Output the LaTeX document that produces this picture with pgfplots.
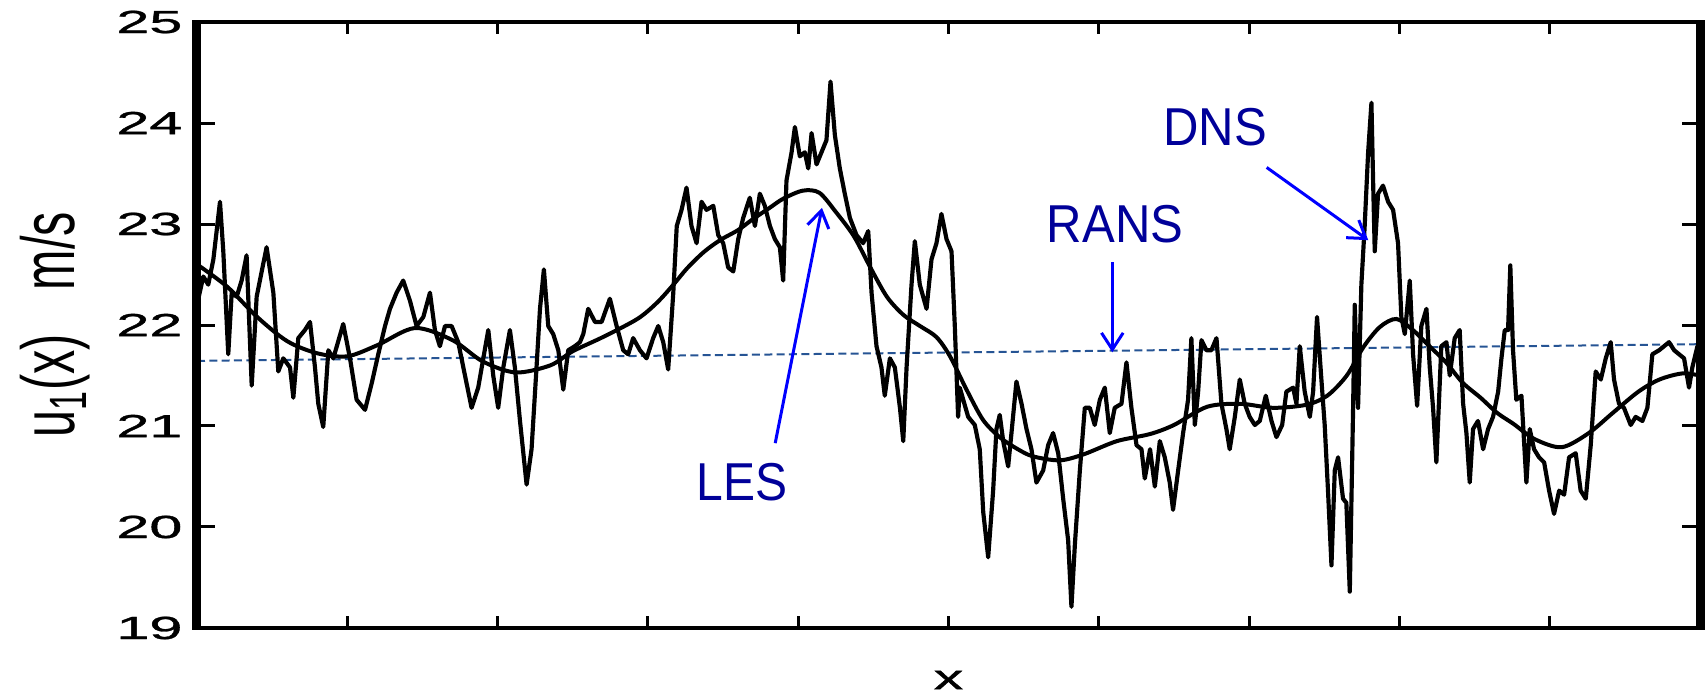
\documentclass[border=0pt]{standalone}
\usepackage{fontspec}
\setmainfont{Liberation Sans}
\newfontfamily\tickfont{Liberation Sans}[FakeBold=0.9]
\usepackage{pgfplots}
\pgfplotsset{compat=1.18}
\usepackage{pgfplotstable}
\usetikzlibrary{arrows.meta}

\definecolor{ransblue}{RGB}{38,84,148}
\definecolor{notenavy}{RGB}{0,0,153}
\definecolor{arrowblue}{RGB}{0,0,255}

% instantaneous velocity signal (DNS)
\pgfplotstableread{
x u
0.000 22.20
0.042 22.48
0.075 22.40
0.109 22.65
0.153 23.22
0.175 22.73
0.208 21.71
0.231 22.32
0.264 22.28
0.297 22.44
0.330 22.69
0.364 21.40
0.397 22.28
0.463 22.77
0.508 22.32
0.541 21.54
0.574 21.67
0.619 21.58
0.641 21.28
0.674 21.87
0.718 21.95
0.752 22.03
0.785 21.58
0.807 21.22
0.840 20.99
0.874 21.75
0.907 21.67
0.973 22.01
1.018 21.67
1.062 21.26
1.118 21.16
1.162 21.42
1.206 21.71
1.251 21.99
1.284 22.16
1.328 22.32
1.372 22.44
1.417 22.24
1.461 21.99
1.506 22.08
1.550 22.32
1.583 21.95
1.616 21.79
1.650 21.99
1.694 21.99
1.738 21.83
1.783 21.50
1.827 21.18
1.871 21.38
1.905 21.67
1.938 21.95
1.971 21.50
2.004 21.18
2.038 21.58
2.082 21.95
2.115 21.58
2.149 21.05
2.193 20.42
2.226 20.77
2.259 21.58
2.282 22.16
2.308 22.55
2.337 21.99
2.370 21.91
2.404 21.75
2.437 21.36
2.470 21.75
2.514 21.79
2.548 21.83
2.570 21.91
2.603 22.16
2.648 22.03
2.692 22.03
2.747 22.26
2.792 21.99
2.836 21.75
2.869 21.71
2.902 21.87
2.947 21.75
2.991 21.67
3.035 21.87
3.069 21.99
3.102 21.83
3.135 21.56
3.169 22.32
3.192 22.98
3.224 23.14
3.257 23.36
3.290 22.98
3.324 22.81
3.357 23.22
3.390 23.14
3.435 23.18
3.468 22.89
3.501 22.81
3.534 22.57
3.568 22.53
3.601 22.85
3.634 23.06
3.678 23.26
3.712 22.98
3.745 23.30
3.778 23.18
3.812 22.98
3.845 22.85
3.878 22.77
3.900 22.44
3.922 23.43
3.956 23.71
3.978 23.96
4.011 23.67
4.044 23.71
4.067 23.55
4.089 23.90
4.122 23.59
4.155 23.71
4.188 23.83
4.215 24.41
4.244 23.88
4.277 23.55
4.310 23.30
4.344 23.06
4.388 22.89
4.432 22.81
4.466 22.93
4.488 22.32
4.521 21.79
4.554 21.58
4.576 21.30
4.610 21.67
4.643 21.58
4.677 21.18
4.699 20.85
4.721 21.58
4.754 22.40
4.776 22.83
4.809 22.40
4.854 22.16
4.887 22.65
4.920 22.81
4.953 23.10
4.987 22.85
5.020 22.73
5.042 21.99
5.064 21.09
5.075 21.38
5.098 21.26
5.131 21.09
5.175 21.01
5.208 20.77
5.231 20.15
5.264 19.70
5.297 20.36
5.319 20.97
5.341 21.11
5.364 20.85
5.397 20.60
5.419 20.93
5.452 21.44
5.486 21.22
5.519 20.97
5.552 20.77
5.585 20.44
5.630 20.56
5.663 20.81
5.696 20.93
5.730 20.73
5.763 20.28
5.796 19.87
5.818 19.21
5.841 19.83
5.874 20.56
5.907 21.18
5.940 21.18
5.973 21.01
6.007 21.26
6.040 21.38
6.073 20.93
6.106 21.18
6.151 21.22
6.184 21.63
6.217 21.18
6.251 20.81
6.284 20.77
6.306 20.48
6.341 20.77
6.373 20.40
6.406 20.85
6.439 20.69
6.472 20.44
6.494 20.17
6.528 20.56
6.561 20.93
6.594 21.26
6.616 21.87
6.639 21.01
6.661 21.34
6.683 21.85
6.716 21.75
6.749 21.75
6.783 21.87
6.816 21.22
6.849 20.97
6.871 20.77
6.905 21.09
6.938 21.46
6.971 21.22
7.004 21.09
7.038 21.01
7.071 21.05
7.111 21.30
7.149 21.05
7.182 20.89
7.220 21.01
7.248 21.34
7.293 21.38
7.315 21.22
7.337 21.79
7.370 21.34
7.404 21.09
7.426 21.34
7.452 22.08
7.481 21.46
7.503 21.01
7.525 20.36
7.548 19.62
7.570 20.56
7.592 20.69
7.625 20.28
7.647 20.24
7.670 19.36
7.692 21.18
7.703 22.20
7.725 21.18
7.747 22.40
7.769 22.98
7.792 23.71
7.814 24.20
7.825 23.43
7.836 22.73
7.858 23.30
7.891 23.38
7.925 23.22
7.958 23.14
7.991 22.81
8.013 22.08
8.036 21.91
8.069 22.44
8.091 21.71
8.118 21.20
8.146 21.99
8.180 22.16
8.202 21.58
8.224 21.18
8.246 20.64
8.279 21.79
8.313 21.83
8.335 21.50
8.368 21.87
8.401 21.95
8.424 21.22
8.446 20.93
8.468 20.44
8.490 20.97
8.523 21.05
8.557 20.77
8.590 20.97
8.623 21.09
8.657 21.34
8.679 21.67
8.701 21.95
8.723 21.95
8.738 22.59
8.756 21.75
8.778 21.26
8.812 21.30
8.845 20.44
8.867 20.97
8.896 20.77
8.929 20.69
8.963 20.64
8.996 20.36
9.029 20.13
9.063 20.36
9.096 20.32
9.129 20.69
9.173 20.73
9.206 20.36
9.240 20.28
9.273 20.81
9.306 21.54
9.340 21.46
9.373 21.67
9.406 21.83
9.428 21.46
9.461 21.22
9.494 21.18
9.539 21.01
9.572 21.09
9.617 21.05
9.650 21.18
9.683 21.71
9.728 21.75
9.761 21.79
9.794 21.83
9.828 21.75
9.861 21.71
9.894 21.67
9.927 21.38
9.949 21.58
9.983 21.79
10.000 21.75
}\dnsdata

% filtered (large-eddy) velocity
\pgfplotstableread{
x u
0.00 22.60
0.20 22.38
0.40 22.08
0.60 21.84
0.80 21.72
1.00 21.69
1.20 21.80
1.45 21.97
1.70 21.85
1.90 21.64
2.12 21.53
2.35 21.60
2.50 21.74
2.70 21.88
2.93 22.06
3.06 22.22
3.17 22.40
3.26 22.56
3.37 22.72
3.48 22.84
3.60 22.94
3.70 23.05
3.81 23.16
3.90 23.25
4.03 23.33
4.14 23.31
4.25 23.12
4.37 22.88
4.48 22.57
4.59 22.28
4.70 22.10
4.81 21.99
4.92 21.88
5.01 21.69
5.12 21.36
5.23 21.06
5.34 20.89
5.45 20.78
5.56 20.70
5.74 20.66
5.90 20.72
6.12 20.85
6.34 20.92
6.50 21.01
6.72 21.19
6.94 21.22
7.16 21.18
7.38 21.21
7.52 21.30
7.65 21.50
7.76 21.78
7.87 21.98
7.98 22.06
8.09 21.95
8.20 21.79
8.31 21.63
8.42 21.43
8.54 21.28
8.65 21.13
8.76 21.02
8.90 20.87
9.08 20.79
9.26 20.93
9.42 21.13
9.59 21.34
9.73 21.46
9.88 21.52
10.00 21.50
}\lesdata

\begin{document}
\begin{tikzpicture}
\begin{axis}[
  name=ax,
  scale only axis,
  width=450.9pt, height=181.8pt,
  xmin=0, xmax=10, ymin=19, ymax=25,
  xtick={0,...,10}, xticklabels={},
  ytick={19,...,25},
  tick align=inside, tick pos=both,
  axis line style={line width=1.2pt},
  every tick/.append style={black, line width=0.9pt},
  ytick style={/pgfplots/major tick length=5.4pt},
  xtick style={/pgfplots/major tick length=3.6pt},
  yticklabel={\scalebox{1.85}[1]{\pgfmathprintnumber[assume math mode=true]{\tick}}},
  yticklabel style={font=\tickfont\fontsize{9.6}{11}\selectfont, inner sep=0pt, xshift=-4.2pt},
  xlabel={\scalebox{1.7}[1]{x}},
  xlabel style={font=\tickfont\fontsize{10.4}{12}\selectfont, at={(axis description cs:0.5,-0.101)}, anchor=base, inner sep=0pt},
  ylabel={\scalebox{0.97}[1.5]{u\textsubscript{1}(x)\hspace{0.9em}m/s}},
  ylabel style={font=\fontsize{15}{18}\selectfont, at={(axis description cs:-0.0812,0.5)}, anchor=base, inner sep=0pt},
]
  % Reynolds-averaged mean
  \addplot[ransblue, line width=0.6pt, dash pattern=on 2.4pt off 1.3pt] coordinates {(0,21.645) (10,21.81)};
  % instantaneous signal
  \addplot[black, line width=1.25pt, line join=round] table[x=x, y=u] {\dnsdata};
  % filtered signal
  \addplot[black, line width=1.2pt, smooth] table[x=x, y=u] {\lesdata};

  % labels with pointers
  \node[notenavy, anchor=base, inner sep=0pt, font=\fontsize{16}{19}\selectfont] at (axis cs:3.626,20.26) {\scalebox{0.9}[1]{LES}};
  \node[notenavy, anchor=base, inner sep=0pt, font=\fontsize{16}{19}\selectfont] at (axis cs:6.108,22.82) {\scalebox{0.92}[1]{RANS}};
  \node[notenavy, anchor=base, inner sep=0pt, font=\fontsize{16}{19}\selectfont] at (axis cs:6.773,23.78) {\scalebox{0.92}[1]{DNS}};
  \draw[arrowblue, line width=0.9pt, -{Straight Barb[length=5pt,width=6.5pt]}] (axis cs:3.847,20.83) -- (axis cs:4.158,23.16);
  \draw[arrowblue, line width=0.9pt, -{Straight Barb[length=5pt,width=6.5pt]}] (axis cs:6.090,22.62) -- (axis cs:6.090,21.73);
  \draw[arrowblue, line width=0.9pt, -{Straight Barb[length=5pt,width=6.5pt]}] (axis cs:7.117,23.56) -- (axis cs:7.793,22.84);
\end{axis}
% heavier side frame lines
\draw[line width=2.7pt] ([yshift=-0.6pt]ax.south west) -- ([yshift=0.6pt]ax.north west);
\draw[line width=2.7pt] ([yshift=-0.6pt]ax.south east) -- ([yshift=0.6pt]ax.north east);
\pgfresetboundingbox
\path (ax.south west) ++(-59.1pt,-20.1pt) rectangle ++(511.8pt,208.5pt);
\end{tikzpicture}
\end{document}
